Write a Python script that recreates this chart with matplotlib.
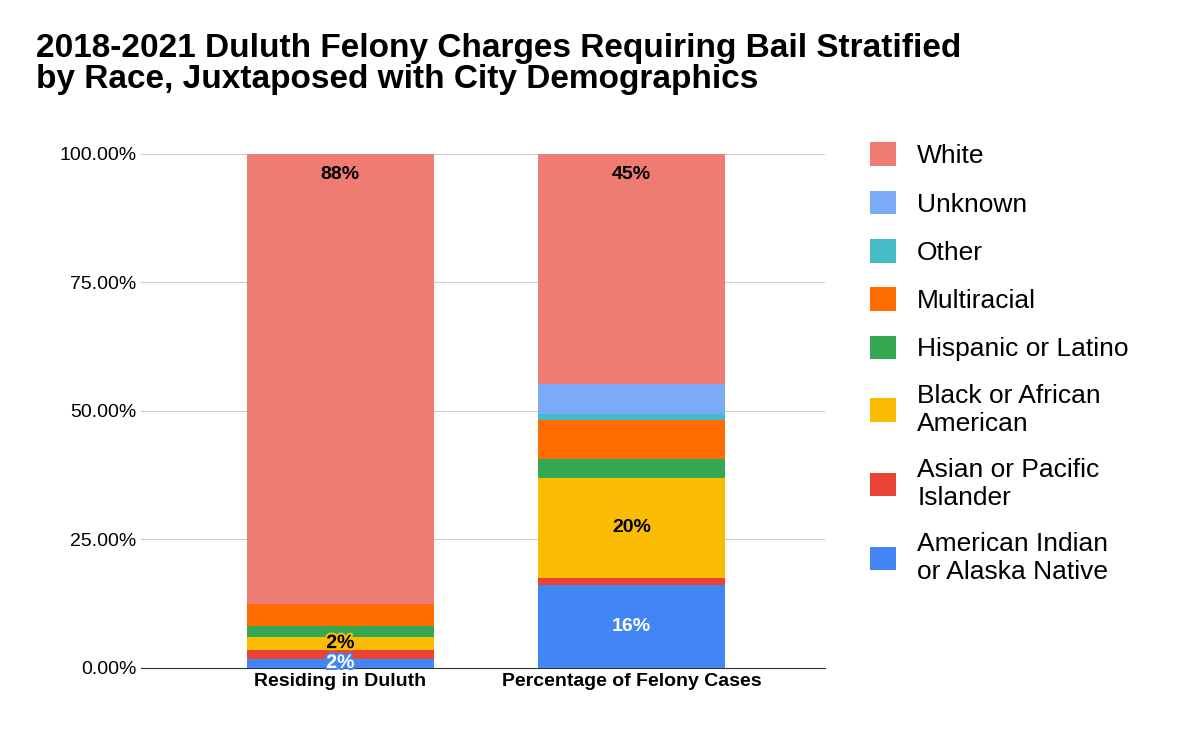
import numpy as np
import matplotlib.pyplot as plt
import matplotlib.patheffects as pe

plt.rcParams['font.family'] = ['Liberation Sans', 'DejaVu Sans']

categories = ["Residing in Duluth", "Percentage of Felony Cases"]
groups = ["American Indian\nor Alaska Native", "Asian or Pacific\nIslander", "Black or African\nAmerican",
          "Hispanic or Latino", "Multiracial", "Other", "Unknown", "White"]
colors = ["#4285F4", "#EA4335", "#FBBC04", "#34A853", "#FF6D01", "#46BDC6", "#7BAAF7", "#EF7C72"]
residing = [1.7, 1.8, 2.4, 2.3, 4.2, 0.0, 0.0, 87.6]
felony = [16.1, 1.4, 19.5, 3.7, 7.4, 1.2, 5.8, 44.9]
labels_res = ["2%", None, "2%", None, None, None, None, "88%"]
labels_fel = ["16%", None, "20%", None, None, None, None, "45%"]

fig = plt.figure(figsize=(12, 7.42), dpi=100)
ax = fig.add_axes([0.1175, 0.1, 0.57, 0.693])
x = np.arange(2)
bottom = np.zeros(2)
for i, g in enumerate(groups):
    vals = np.array([residing[i], felony[i]])
    ax.bar(x, vals, 0.64, bottom=bottom, color=colors[i], label=g, zorder=3)
    for j, lab in enumerate([labels_res[i], labels_fel[i]]):
        if lab is None:
            continue
        if i == 7:
            y = bottom[j] + vals[j] - 4
        else:
            y = bottom[j] + vals[j] / 2
        tc = "white" if i == 0 else "black"
        t = ax.text(x[j], y, lab, ha="center", va="center", fontsize=14, fontweight="bold", color=tc, zorder=4)
        if vals[j] < 5:
            t.set_path_effects([pe.withStroke(linewidth=3, foreground=colors[i])])
    bottom += vals

ax.set_xlim(-0.685, 1.665)
ax.set_ylim(0, 100)
ax.set_yticks([0, 25, 50, 75, 100])
ax.set_yticklabels(["0.00%", "25.00%", "50.00%", "75.00%", "100.00%"], fontsize=14)
ax.set_xticks(x)
ax.set_xticklabels(categories, fontsize=14, fontweight="bold")
ax.tick_params(length=0)
ax.grid(axis="y", color="#cccccc", zorder=0)
for s in ["top", "right", "left"]:
    ax.spines[s].set_visible(False)
ax.spines["bottom"].set_color("#333333")

h, l = ax.get_legend_handles_labels()
fig.legend(h[::-1], l[::-1], loc="upper left", bbox_to_anchor=(0.705, 0.84), frameon=False,
           fontsize=19, handlelength=1.0, handleheight=1.0, labelspacing=0.85, handletextpad=0.8)
fig.text(0.03, 0.955, "2018-2021 Duluth Felony Charges Requiring Bail Stratified\nby Race, Juxtaposed with City Demographics",
         ha="left", va="top", fontsize=24, fontweight="bold", linespacing=1.0)
fig.savefig("out.png", dpi=100)
